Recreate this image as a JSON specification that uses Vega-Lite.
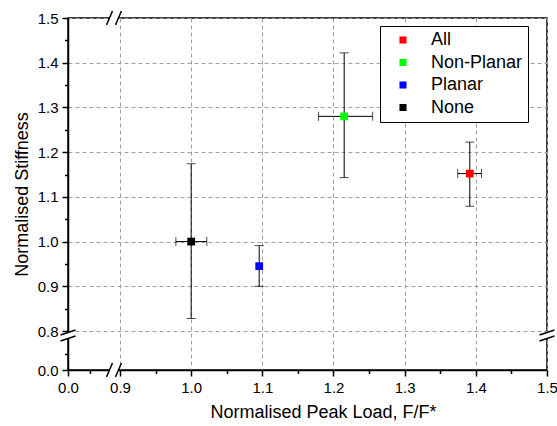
{
  "$schema": "https://vega.github.io/schema/vega-lite/v6.json",
  "width": 479,
  "height": 352,
  "autosize": {"type": "none"},
  "padding": {"left": 68, "top": 18, "right": 10, "bottom": 56},
  "background": "white",
  "config": {
    "view": {"stroke": "black", "strokeWidth": 1.5},
    "font": "Liberation Sans",
    "legend": {
      "orient": "none", "legendX": 312, "legendY": 8,
      "strokeColor": "black", "fillColor": "white", "padding": 5,
      "symbolType": "square", "symbolSize": 50, "symbolStrokeWidth": 0,
      "labelFontSize": 18, "labelFont": "Liberation Sans", "labelColor": "black",
      "rowPadding": 4.5, "symbolOffset": 9, "labelOffset": 19
    }
  },
  "datasets": {
    "points": [
      {"group": "All", "x": 1.3915, "y": 1.152, "xlo": 1.3745, "xhi": 1.408, "ylo": 1.079, "yhi": 1.2225},
      {"group": "Non-Planar", "x": 1.215, "y": 1.28, "xlo": 1.179, "xhi": 1.255, "ylo": 1.143, "yhi": 1.422},
      {"group": "Planar", "x": 1.0956, "y": 0.945, "xlo": 1.0956, "xhi": 1.0956, "ylo": 0.90, "yhi": 0.991},
      {"group": "None", "x": 1.0, "y": 1.0, "xlo": 0.9785, "xhi": 1.022, "ylo": 0.828, "yhi": 1.174}
    ],
    "breaks": [
      {"x1": 0.666, "x2": 0.770, "y1": 1.4844, "y2": 1.5156},
      {"x1": 0.822, "x2": 0.902, "y1": 1.4844, "y2": 1.5156},
      {"x1": 0.666, "x2": 0.770, "y1": -0.1436, "y2": 0.1436},
      {"x1": 0.822, "x2": 0.902, "y1": -0.1436, "y2": 0.1436},
      {"x1": -0.13, "x2": 0.13, "y1": 0.718, "y2": 0.8022},
      {"x1": -0.13, "x2": 0.13, "y1": 0.595, "y2": 0.697},
      {"x1": 1.4895, "x2": 1.5105, "y1": 0.718, "y2": 0.8022},
      {"x1": 1.4895, "x2": 1.5105, "y1": 0.595, "y2": 0.697}
    ],
    "gaps": [
      {"x1": 0.718, "x2": 0.874, "y1": 1.5, "y2": 1.5},
      {"x1": 0.718, "x2": 0.874, "y1": 0, "y2": 0},
      {"x1": 0, "x2": 0, "y1": 0.646, "y2": 0.769},
      {"x1": 1.5, "x2": 1.5, "y1": 0.646, "y2": 0.769}
    ]
  },
  "resolve": {"axis": {"x": "independent", "y": "independent"}},
  "layer": [
    {
      "data": {"name": "points"},
      "mark": {"type": "errorbar", "ticks": {"size": 9, "color": "black"}, "rule": {"color": "black", "strokeWidth": 1}},
      "encoding": {
        "x": {"field": "x", "type": "quantitative", "scale": {"domain": [0, 0.9, 1.5], "range": [0, 52, 479], "nice": false, "zero": false}, "axis": null},
        "y": {"field": "ylo", "type": "quantitative", "scale": {"domain": [0, 0.8, 1.5], "range": [352, 313, 0], "nice": false, "zero": false}, "axis": null},
        "y2": {"field": "yhi"}
      }
    },
    {
      "data": {"name": "points"},
      "transform": [{"filter": "datum.xlo != datum.xhi"}],
      "mark": {"type": "errorbar", "ticks": {"size": 9, "color": "black"}, "rule": {"color": "black", "strokeWidth": 1}},
      "encoding": {
        "y": {"field": "y", "type": "quantitative", "scale": {"domain": [0, 0.8, 1.5], "range": [352, 313, 0], "nice": false, "zero": false}, "axis": null},
        "x": {"field": "xlo", "type": "quantitative", "scale": {"domain": [0, 0.9, 1.5], "range": [0, 52, 479], "nice": false, "zero": false}, "axis": null},
        "x2": {"field": "xhi"}
      }
    },
    {
      "data": {"name": "points"},
      "mark": {"type": "square", "filled": true, "size": 60, "opacity": 1},
      "encoding": {
        "x": {"field": "x", "type": "quantitative", "scale": {"domain": [0, 0.9, 1.5], "range": [0, 52, 479], "nice": false, "zero": false},
          "axis": {"title": "Normalised Peak Load, F/F*", "orient": "bottom", "values": [0, 0.9, 1.0, 1.1, 1.2, 1.3, 1.4, 1.5], "format": ".1f",
            "grid": true, "gridColor": "#a0a0a0", "gridDash": [4, 3], "gridWidth": 1,
            "domainColor": "black", "domainWidth": 1.5, "tickColor": "black", "tickSize": 6, "tickWidth": 1.5,
            "labelFontSize": 15, "labelColor": "black", "labelPadding": 4, "labelFlush": false, "labelOverlap": false,
            "titleFontSize": 18, "titleFontWeight": "normal", "titleColor": "black", "titlePadding": 8, "titleX": 255}},
        "y": {"field": "y", "type": "quantitative", "scale": {"domain": [0, 0.8, 1.5], "range": [352, 313, 0], "nice": false, "zero": false},
          "axis": {"title": "Normalised Stiffness", "orient": "left", "values": [0, 0.8, 0.9, 1.0, 1.1, 1.2, 1.3, 1.4, 1.5], "format": ".1f",
            "grid": true, "gridColor": "#a0a0a0", "gridDash": [4, 3], "gridWidth": 1,
            "domainColor": "black", "domainWidth": 1.5, "tickColor": "black", "tickSize": 6, "tickWidth": 1.5,
            "labelFontSize": 15, "labelColor": "black", "labelPadding": 4, "labelFlush": false, "labelOverlap": false,
            "titleFontSize": 18, "titleFontWeight": "normal", "titleColor": "black", "titlePadding": 6}},
        "color": {"field": "group", "type": "nominal", "scale": {"domain": ["All", "Non-Planar", "Planar", "None"], "range": ["#ff0000", "#00ff00", "#0000ff", "#000000"]}, "legend": {"title": null}}
      }
    },
    {
      "data": {"name": "gaps"},
      "mark": {"type": "rule", "color": "white", "strokeWidth": 4},
      "encoding": {
        "x": {"field": "x1", "type": "quantitative", "scale": {"domain": [0, 0.9, 1.5], "range": [0, 52, 479], "nice": false, "zero": false},
          "axis": {"title": null, "orient": "bottom", "values": [0.38, 0.95, 1.05, 1.15, 1.25, 1.35, 1.45], "labels": false, "domain": false, "grid": false, "tickColor": "black", "tickSize": 3.5, "tickWidth": 1.5}},
        "x2": {"field": "x2"},
        "y": {"field": "y1", "type": "quantitative", "scale": {"domain": [0, 0.8, 1.5], "range": [352, 313, 0], "nice": false, "zero": false},
          "axis": {"title": null, "orient": "left", "values": [0.33, 0.85, 0.95, 1.05, 1.15, 1.25, 1.35, 1.45], "labels": false, "domain": false, "grid": false, "tickColor": "black", "tickSize": 3.5, "tickWidth": 1.5}},
        "y2": {"field": "y2"}
      }
    },
    {
      "data": {"name": "breaks"},
      "mark": {"type": "rule", "color": "black", "strokeWidth": 1.5},
      "encoding": {
        "x": {"field": "x1", "type": "quantitative", "scale": {"domain": [0, 0.9, 1.5], "range": [0, 52, 479], "nice": false, "zero": false}, "axis": null},
        "x2": {"field": "x2"},
        "y": {"field": "y1", "type": "quantitative", "scale": {"domain": [0, 0.8, 1.5], "range": [352, 313, 0], "nice": false, "zero": false}, "axis": null},
        "y2": {"field": "y2"}
      }
    }
  ]
}
